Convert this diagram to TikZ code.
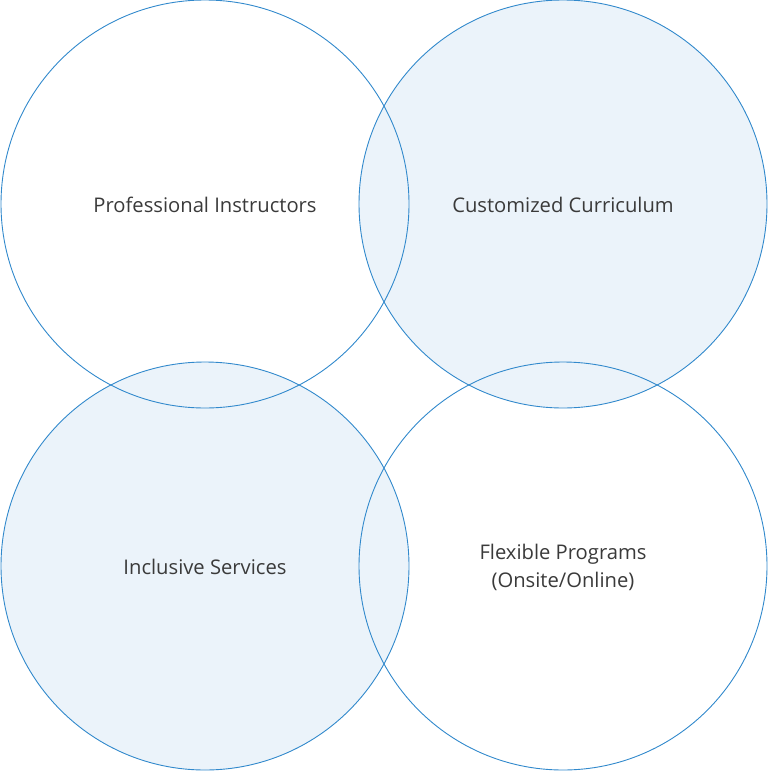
\documentclass[tikz,border=0pt]{standalone}
\usepackage{fontspec}
\setmainfont{Open Sans}
\definecolor{stroke}{HTML}{3189CC}
\definecolor{lightfill}{HTML}{EBF3FA}
\definecolor{txt}{HTML}{3A3A3A}
\begin{document}
\begin{tikzpicture}[x=1pt,y=-1pt,
  ring/.style={draw=stroke,line width=0.9pt},
  filled/.style={fill=lightfill},
  lbl/.style={text=txt,font=\fontsize{20.2}{28}\selectfont,align=center}]
\useasboundingbox (0,0) rectangle (768,771);
\fill[filled] (563,204) circle[radius=204];
\fill[filled] (205,566) circle[radius=204];
\draw[ring] (205,204) circle[radius=204];
\draw[ring] (563,204) circle[radius=204];
\draw[ring] (205,566) circle[radius=204];
\draw[ring] (563,566) circle[radius=204];
\node[lbl] (pi) at (205,205) {Professional Instructors};
\node[lbl] (cc) at (563,205) {Customized Curriculum};
\node[lbl] (is) at (205,567) {Inclusive Services};
\node[lbl] (fp) at (563,567) {Flexible Programs\\(Onsite/Online)};
\end{tikzpicture}
\end{document}
